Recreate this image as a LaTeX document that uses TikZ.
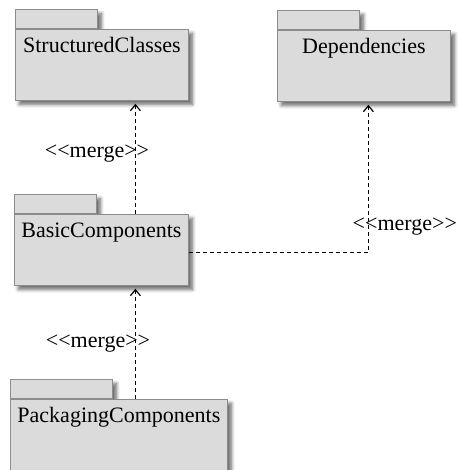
\documentclass[tikz,border=0pt]{standalone}
\usepackage{fontspec}
\setmainfont{Liberation Serif}
\usetikzlibrary{shadows.blur,arrows.meta}

\tikzset{
  pkgshadow/.style={blur shadow={shadow xshift=2pt, shadow yshift=-2pt, shadow blur steps=6, shadow opacity=60}},
  pkgbody/.style={draw=black!45, fill=black!14, anchor=north west, inner sep=0pt,
    text height=11.5pt, text depth=24pt, align=center, pkgshadow},
  pkgtab/.style={draw=black!45, fill=black!14, anchor=south west, inner sep=0pt,
    minimum height=9.5pt, pkgshadow},
  mergeline/.style={line width=0.65pt, dash pattern=on 2pt off 1.5pt,
    -{Straight Barb[length=3pt, width=5pt, line width=0.6pt]}, shorten >=1.5pt},
}
% << and >> without the tex-text ligature
\newcommand{\mrg}{<\kern0pt<merge>\kern0pt>}

\begin{document}
\begin{tikzpicture}[x=0.5pt, y=-0.5pt, font=\fontsize{11}{13}\selectfont]
\useasboundingbox (0,0) rectangle (458,470);

\node[pkgtab, minimum width=41pt] (sctab) at (15,29) {};
\node[pkgbody, minimum width=86.5pt] (sc) at (15,29) {StructuredClasses};

\node[pkgtab, minimum width=41pt] (deptab) at (277,30) {};
\node[pkgbody, minimum width=86.5pt] (dep) at (277,30) {Dependencies};

\node[pkgtab, minimum width=41pt] (basictab) at (14,214) {};
\node[pkgbody, minimum width=87pt] (basic) at (14,214) {BasicComponents};

\node[pkgtab, minimum width=51pt] (packtab) at (10,399) {};
\node[pkgbody, minimum width=108.5pt, text depth=26pt] (pack) at (10,399) {PackagingComponents};

\draw[mergeline] ([xshift=17pt]basic.north) -- ([xshift=16.75pt]sc.south)
  node[pos=0.53, left=-10.5pt] {\mrg};
\draw[mergeline] ([yshift=-1.25pt]basic.east) -| ([xshift=2.25pt]dep.south)
  node[pos=0.587, right=-11.5pt] {\mrg};
\draw[mergeline] ([xshift=8.25pt]pack.north) -- ([xshift=17pt]basic.south)
  node[pos=0.49, left=-11pt] {\mrg};

\end{tikzpicture}
\end{document}
